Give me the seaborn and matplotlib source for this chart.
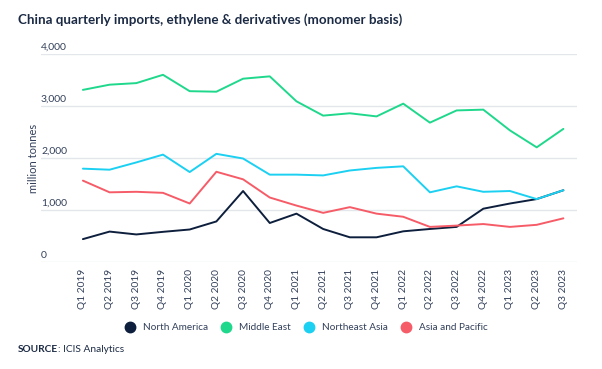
import pandas as pd
import seaborn as sns
import matplotlib.pyplot as plt
from matplotlib.lines import Line2D
from matplotlib.transforms import blended_transform_factory

quarters = ["Q1 2019", "Q2 2019", "Q3 2019", "Q4 2019", "Q1 2020", "Q2 2020",
            "Q3 2020", "Q4 2020", "Q1 2021", "Q2 2021", "Q3 2021", "Q4 2021",
            "Q1 2022", "Q2 2022", "Q3 2022", "Q4 2022", "Q1 2023", "Q2 2023",
            "Q3 2023"]
north_america = [440, 585, 530, 580, 625, 780, 1365, 750, 930, 635, 475, 475,
                 590, 635, 675, 1025, 1125, 1210, 1380]
middle_east = [3310, 3410, 3440, 3600, 3285, 3275, 3525, 3570, 3090, 2815,
               2860, 2800, 3045, 2680, 2915, 2930, 2530, 2205, 2560]
northeast_asia = [1795, 1775, 1915, 2065, 1730, 2080, 1990, 1680, 1680, 1665,
                  1760, 1810, 1840, 1340, 1455, 1350, 1365, 1210, 1380]
asia_pacific = [1565, 1340, 1350, 1330, 1125, 1735, 1590, 1240, 1085, 945,
                1055, 930, 870, 675, 700, 730, 675, 715, 840]

series = {
    "North America": north_america,
    "Middle East": middle_east,
    "Northeast Asia": northeast_asia,
    "Asia and Pacific": asia_pacific,
}
colors = {
    "North America": "#0d1f3c",
    "Middle East": "#1fd88c",
    "Northeast Asia": "#1cd0f2",
    "Asia and Pacific": "#f65c68",
}

rows = []
for name, vals in series.items():
    for i, v in enumerate(vals):
        rows.append({"idx": i, "quarter": quarters[i], "region": name, "value": v})
df = pd.DataFrame(rows)

sns.set_style("white")
plt.rcParams["font.family"] = ["Lato", "DejaVu Sans"]
text_col = "#33405a"

fig = plt.figure(figsize=(6.02, 3.69), dpi=100)
ax = fig.add_axes([41 / 602, (369 - 262) / 369, (577 - 41) / 602, (262 - 54) / 369])

sns.lineplot(data=df, x="idx", y="value", hue="region", palette=colors,
             linewidth=1.4, ax=ax, legend=False)

ax.set_xlim(-1.57, 18.51)
ax.set_ylim(0, 4000)
for s in ax.spines.values():
    s.set_visible(False)

# gridlines with labels sitting on top of them, left aligned
yt = [0, 1000, 2000, 3000, 4000]
ax.set_yticks(yt)
ax.set_yticklabels([])
ax.tick_params(axis="y", length=0)
for v in yt:
    ax.axhline(v, color="#e3e6ea", linewidth=1, zorder=0)
trans = blended_transform_factory(ax.transAxes, ax.transData)
for v in yt:
    ax.text(0.0, v + 40, f"{v:,}", transform=trans, ha="left", va="bottom",
            fontsize=7.5, color=text_col)

ax.set_xticks(range(len(quarters)))
ax.set_xticklabels(quarters, rotation=90, fontsize=7.3, color=text_col)
ax.tick_params(axis="x", length=0, pad=5)
ax.set_xlabel("")
ax.set_ylabel("million tonnes", fontsize=8, color=text_col, labelpad=2)
ax.yaxis.set_label_coords(-0.004, 0.5)

fig.text(18 / 602, 1 - 20 / 369, "China quarterly imports, ethylene & derivatives (monomer basis)",
         fontsize=9.6, fontweight="bold", color="#1b2a44", va="center", ha="left")

handles = [Line2D([0], [0], marker="o", linestyle="", markersize=7.5,
                  markerfacecolor=colors[n], markeredgecolor=colors[n]) for n in series]
fig.legend(handles, list(series.keys()), loc="center", bbox_to_anchor=(0.505, 1 - 328 / 369),
           ncol=4, frameon=False, fontsize=7.2, handletextpad=0.3, columnspacing=0.8,
           labelcolor=text_col)

src = fig.text(18 / 602, 1 - 350 / 369, "SOURCE", fontsize=7.3, fontweight="bold",
               color="#1b2a44", va="center", ha="left")
ax.annotate(": ICIS Analytics", xy=(1, 0.5), xycoords=src, va="center", ha="left",
            fontsize=7.3, color="#1b2a44", annotation_clip=False)

fig.savefig("out.png", dpi=100, facecolor="white")
